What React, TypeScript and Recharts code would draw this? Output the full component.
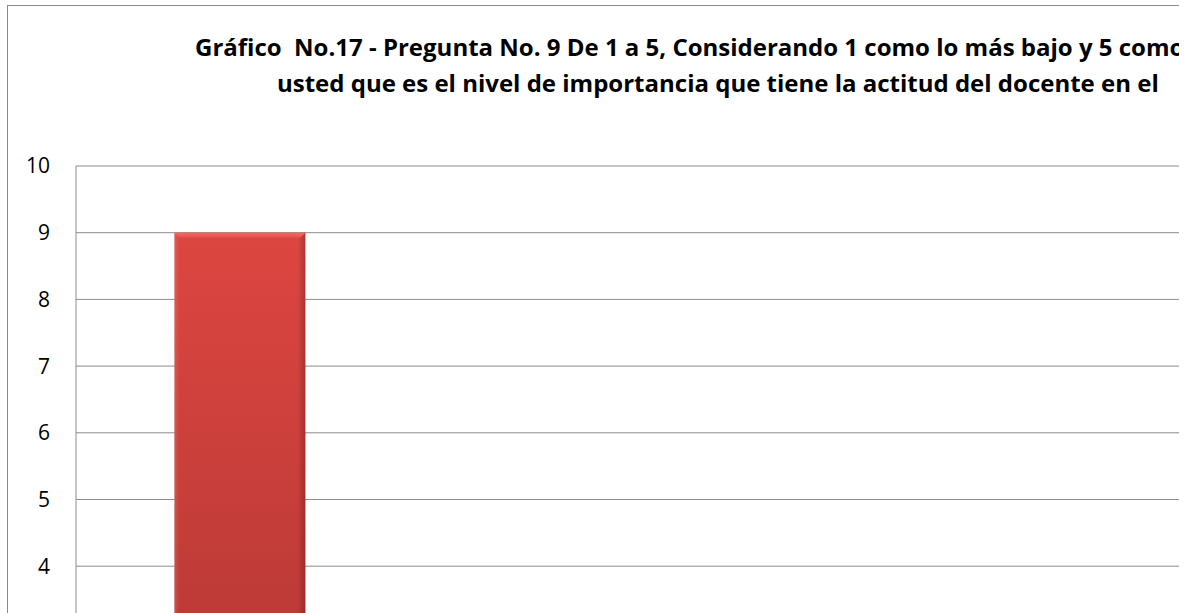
import React from 'react';
import { BarChart, Bar, XAxis, YAxis, CartesianGrid } from 'recharts';

// data (only the first bar is visible in the crop)
const categories = ['1', '2', '3', '4', '5'];
const respuestas = [9, 0, 0, 0, 0];
const yTicks = [0, 1, 2, 3, 4, 5, 6, 7, 8, 9, 10];

const titleLine1 = 'Gráfico  No.17 - Pregunta No. 9 De 1 a 5, Considerando 1 como lo más bajo y 5 como';
const titleLine2 = 'usted que es el nivel de importancia que tiene la actitud del docente en el';

const data = categories.map((cat, i) => ({ cat, valor: respuestas[i] }));

const FONT = '"Open Sans", Lato, sans-serif';

const BeveledBar = (props: any) => {
  const { x, y, width, height } = props;
  if (!height || height <= 0) return null;
  const b = 5;
  return (
    <g>
      <rect x={x} y={y} width={width} height={height} fill="url(#barFill)" />
      <rect x={x} y={y} width={width} height={height} fill="url(#barEdge)" />
      <polygon
        points={`${x},${y} ${x + width},${y} ${x + width - b},${y + b} ${x + b},${y + b}`}
        fill="url(#barTop)"
      />
    </g>
  );
};

const titleStyle: React.CSSProperties = {
  position: 'absolute',
  fontSize: 24,
  fontWeight: 700,
  whiteSpace: 'pre',
  lineHeight: '24px',
  color: '#000',
};

const App: React.FC = () => {
  return (
    <div
      style={{
        position: 'fixed',
        left: 0,
        top: 0,
        width: 1179,
        height: 613,
        overflow: 'hidden',
        background: '#fff',
        fontFamily: FONT,
      }}
    >
      <div
        style={{
          position: 'absolute',
          left: 7,
          top: 5,
          width: 1740,
          height: 900,
          border: '1px solid #8a8a8a',
        }}
      >
        <div style={{ ...titleStyle, left: 187, top: 29 }}>{titleLine1}</div>
        <div style={{ ...titleStyle, left: 269, top: 65 }}>{titleLine2}</div>
        <BarChart
          width={1728}
          height={887}
          data={data}
          margin={{ top: 160, right: 20, bottom: 20, left: 0 }}
          barCategoryGap="30%"
        >
          <defs>
            <linearGradient id="barFill" x1="0" y1="0" x2="0" y2="1">
              <stop offset="0%" stopColor="#DD4641" />
              <stop offset="100%" stopColor="#AB3431" />
            </linearGradient>
            <linearGradient id="barEdge" x1="0" y1="0" x2="1" y2="0">
              <stop offset="0%" stopColor="#ffffff" stopOpacity={0.12} />
              <stop offset="4%" stopColor="#ffffff" stopOpacity={0} />
              <stop offset="94%" stopColor="#000000" stopOpacity={0} />
              <stop offset="100%" stopColor="#000000" stopOpacity={0.22} />
            </linearGradient>
            <linearGradient id="barTop" x1="0" y1="0" x2="0" y2="1">
              <stop offset="0%" stopColor="#F36B64" />
              <stop offset="100%" stopColor="#E4514B" />
            </linearGradient>
          </defs>
          <CartesianGrid vertical={false} stroke="#8c8c8c" strokeWidth={1} />
          <XAxis dataKey="cat" axisLine={{ stroke: '#8c8c8c' }} tickLine={false} tick={false} height={40} />
          <YAxis
            domain={[0, 10]}
            ticks={yTicks}
            width={68}
            interval={0}
            axisLine={{ stroke: '#8c8c8c' }}
            tickLine={false}
            tickSize={0}
            tickMargin={26}
            tick={{ fill: '#000', fontSize: 21, fontFamily: FONT }}
          />
          <Bar dataKey="valor" shape={BeveledBar} isAnimationActive={false} />
        </BarChart>
      </div>
    </div>
  );
};

export default App;
